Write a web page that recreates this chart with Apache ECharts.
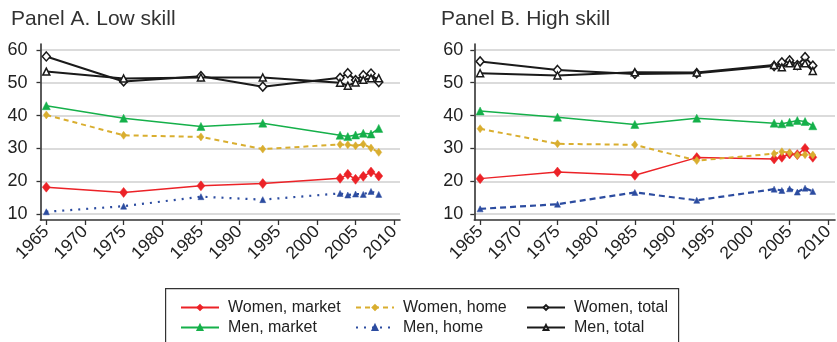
<!DOCTYPE html>
<html>
<head>
<meta charset="utf-8">
<script src="https://cdn.jsdelivr.net/npm/echarts@6/dist/echarts.min.js"></script>
<style>html,body{margin:0;padding:0;background:#fff;}#c{width:837px;height:342px;}</style>
</head>
<body>
<div id="c"></div>
<script>
const years = [1965, 1975, 1985, 1993, 2003, 2004, 2005, 2006, 2007, 2008];
const xTicks = [1965, 1970, 1975, 1980, 1985, 1990, 1995, 2000, 2005, 2010];
const yTicks = [10, 20, 30, 40, 50, 60];
const panelTitles = ['Panel A. Low skill', 'Panel B. High skill'];
const seriesNames = ['Women, market', 'Men, market', 'Women, home', 'Men, home', 'Women, total', 'Men, total'];

// Panel A: Low skill
const lowWomenMarket = [18.2, 16.6, 18.6, 19.3, 20.9, 22.1, 20.6, 21.5, 22.8, 21.6];
const lowMenMarket   = [43.0, 39.2, 36.7, 37.7, 34.0, 33.6, 34.1, 34.6, 34.4, 36.1];
const lowWomenHome   = [40.2, 34.0, 33.5, 29.8, 31.2, 31.1, 30.8, 31.3, 30.1, 28.8];
const lowMenHome     = [10.7, 12.4, 15.3, 14.4, 16.3, 15.8, 16.1, 16.0, 16.9, 16.0];
const lowWomenTotal  = [58.0, 50.4, 52.0, 48.8, 51.5, 52.9, 50.8, 52.3, 52.8, 50.2];
const lowMenTotal    = [53.4, 51.3, 51.6, 51.6, 50.0, 49.1, 50.1, 50.9, 51.4, 51.4];

// Panel B: High skill
const highWomenMarket = [20.8, 22.8, 21.8, 27.2, 26.8, 27.3, 28.3, 28.1, 30.0, 27.3];
const highMenMarket   = [41.4, 39.5, 37.3, 39.2, 37.7, 37.5, 38.0, 38.5, 38.2, 36.9];
const highWomenHome   = [36.0, 31.4, 31.1, 26.3, 28.4, 29.0, 28.7, 27.9, 28.1, 28.0];
const highMenHome     = [11.6, 13.0, 16.6, 14.2, 17.6, 17.2, 17.7, 16.7, 17.9, 16.9];
const highWomenTotal  = [56.5, 53.9, 52.7, 52.9, 55.1, 56.2, 56.8, 55.4, 57.8, 55.2];
const highMenTotal    = [52.9, 52.2, 53.2, 53.1, 55.4, 54.7, 55.9, 55.2, 55.9, 53.6];

const panels = [
  [lowWomenMarket, lowMenMarket, lowWomenHome, lowMenHome, lowWomenTotal, lowMenTotal],
  [highWomenMarket, highMenMarket, highWomenHome, highMenHome, highWomenTotal, highMenTotal]
];

const FONT = 'Liberation Sans, Arial, Helvetica, sans-serif';

function styleFor(k, p) {
  switch (k) {
    case 0: return {symbol: 'diamond', symbolSize: [8, 10], color: '#ec2227', lw: 1.5, type: 'solid', fill: '#ec2227'};
    case 1: return {symbol: 'triangle', symbolSize: 8, color: '#15b04a', lw: 1.5, type: 'solid', fill: '#15b04a'};
    case 2: return {symbol: 'diamond', symbolSize: [6, 8], color: '#d9ae2f', lw: 2, type: [5, 4], fill: '#d9ae2f'};
    case 3: return {symbol: 'triangle', symbolSize: 6, color: '#2c4ca0', lw: 2.2, type: p === 0 ? [2, 6] : [6, 4], fill: '#2c4ca0'};
    case 4: return {symbol: 'diamond', symbolSize: [8, 9], color: '#1a1a1a', lw: 2, type: 'solid', fill: '#ffffff'};
    default: return {symbol: 'triangle', symbolSize: 7, color: '#1a1a1a', lw: 2, type: 'solid', fill: '#ffffff'};
  }
}

const series = [];
panels.forEach((arrs, p) => {
  arrs.forEach((vals, k) => {
    const s = styleFor(k, p);
    series.push({
      name: seriesNames[k],
      type: 'line',
      xAxisIndex: p,
      yAxisIndex: p,
      data: years.map((y, i) => [y, vals[i]]),
      symbol: s.symbol,
      symbolSize: s.symbolSize,
      showAllSymbol: true,
      lineStyle: {color: s.color, width: s.lw, type: s.type},
      itemStyle: {color: s.fill, borderColor: s.color, borderWidth: (k >= 4 ? 1.5 : 0.5), opacity: 1},
      z: k >= 4 ? 3 : 2,
      emphasis: {disabled: true},
      animation: false
    });
  });
});

const grids = [
  {left: 40.5, top: 44, width: 359.5, height: 176},
  {left: 474.3, top: 44, width: 360.7, height: 176}
];
const xMin = [1964.25, 1964.25];
const xMax = [2010.75, 2010.87];

const xAxes = grids.map((g, p) => ({
  type: 'value', gridIndex: p, min: xMin[p], max: xMax[p],
  axisLine: {show: true, onZero: false, lineStyle: {color: '#333', width: 1.6}},
  axisTick: {show: true, length: 5, lineStyle: {color: '#333', width: 1.3}, customValues: xTicks},
  axisLabel: {customValues: xTicks, rotate: 45, fontSize: 17.5, color: '#222', fontFamily: FONT, margin: 9,
              formatter: v => String(Math.round(v))},
  splitLine: {show: false}
}));

const yAxes = grids.map((g, p) => ({
  type: 'value', gridIndex: p, min: 8.2, max: 61.8,
  axisLine: {show: true, onZero: false, lineStyle: {color: '#333', width: 1.6}},
  axisTick: {show: true, length: 4, lineStyle: {color: '#333', width: 1.3}, customValues: yTicks},
  axisLabel: {customValues: yTicks, fontSize: 18, color: '#222', fontFamily: FONT, margin: p === 0 ? 13 : 11},
  splitLine: {show: true, lineStyle: {color: '#cfcfcf', width: 1.6}}
}));

const legendCommon = {
  orient: 'vertical', itemWidth: 38, itemHeight: 6, itemGap: 2, height: 60, padding: 0,
  textStyle: {fontSize: 16, lineHeight: 18, color: '#222', fontFamily: FONT, padding: [0, 0, 0, 4]},
  selectedMode: false, top: 298.5
};

const option = {
  backgroundColor: '#ffffff',
  animation: false,
  title: [
    {text: panelTitles[0], left: 6, top: 4, textStyle: {fontSize: 21, fontWeight: 'normal', color: '#333', fontFamily: FONT}},
    {text: panelTitles[1], left: 436, top: 4, textStyle: {fontSize: 21, fontWeight: 'normal', color: '#333', fontFamily: FONT}}
  ],
  grid: grids,
  xAxis: xAxes,
  yAxis: yAxes,
  legend: [
    Object.assign({}, legendCommon, {left: 180, data: [seriesNames[0], seriesNames[1]]}),
    Object.assign({}, legendCommon, {left: 355, data: [seriesNames[2], seriesNames[3]]}),
    Object.assign({}, legendCommon, {left: 526, data: [seriesNames[4], seriesNames[5]]})
  ],
  graphic: [{
    type: 'rect', left: 165, top: 288, z: -1,
    shape: {width: 513, height: 60},
    style: {fill: '#fff', stroke: '#333', lineWidth: 1.2}
  }],
  series: series
};

const chart = echarts.init(document.getElementById('c'), null, {renderer: 'canvas'});
chart.setOption(option);
</script>
</body>
</html>
